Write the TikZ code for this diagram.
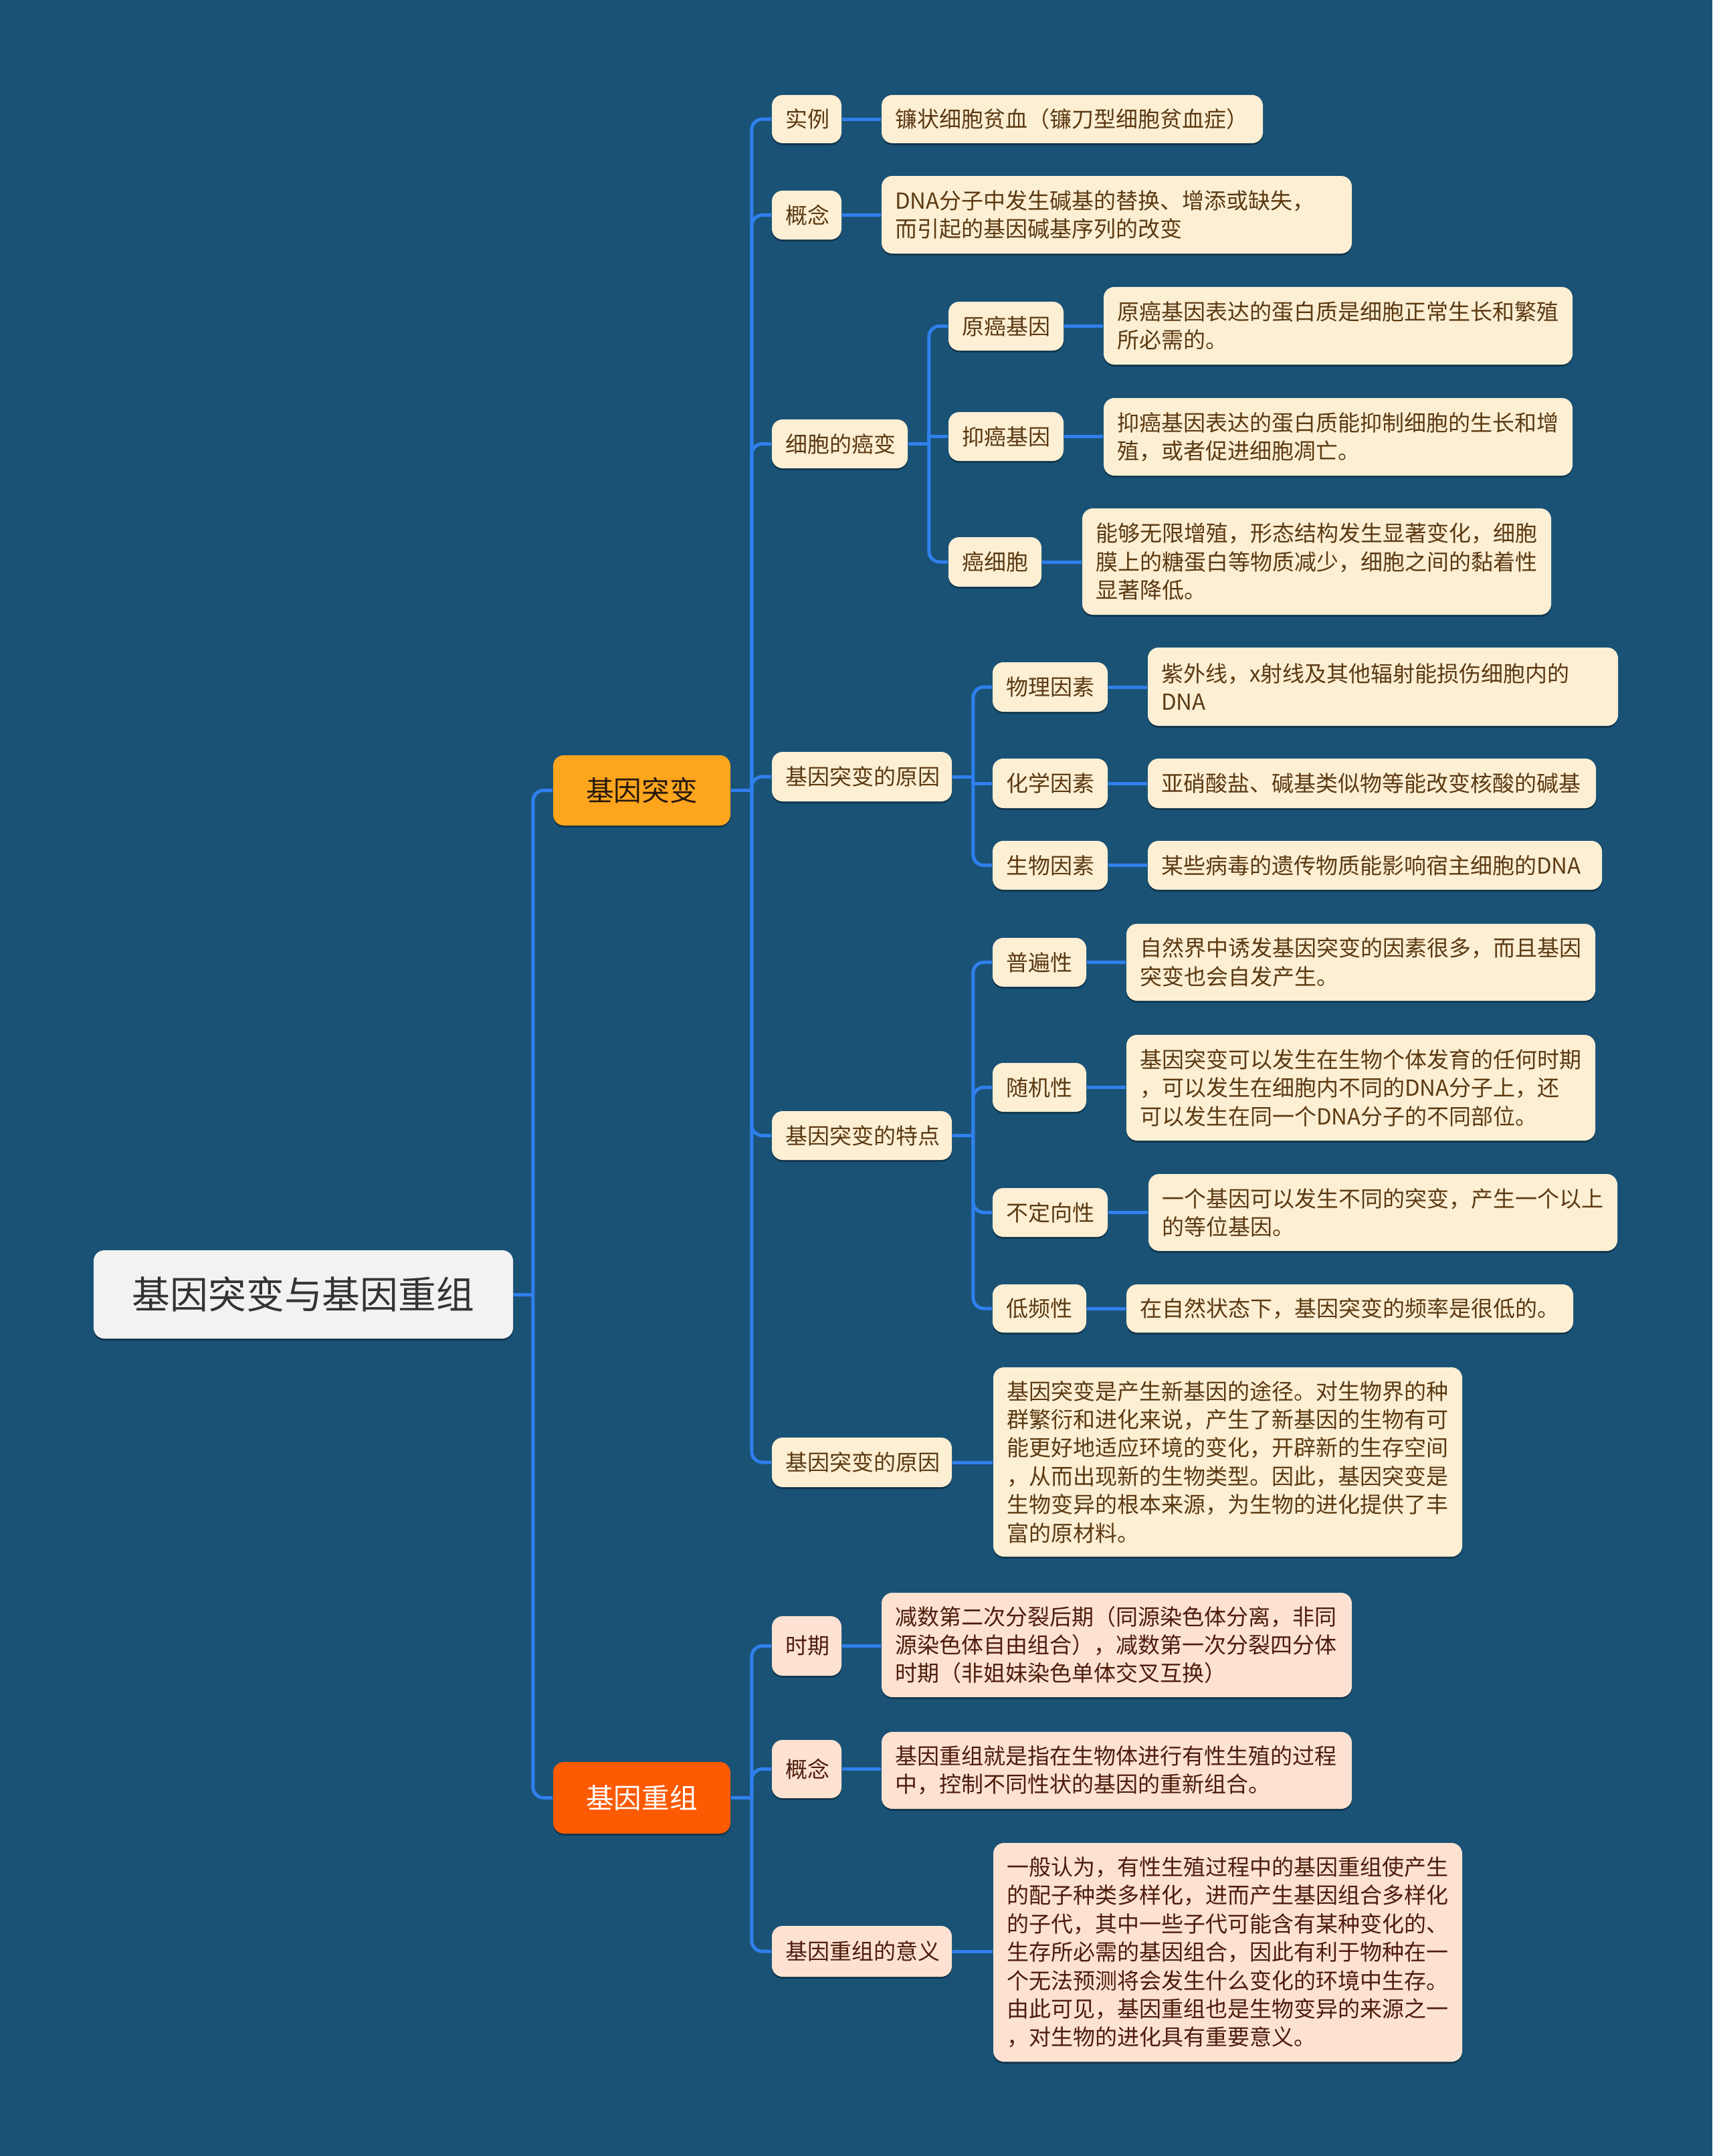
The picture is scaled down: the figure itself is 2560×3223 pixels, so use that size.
\documentclass[tikz,border=0pt]{standalone}
\usepackage{fontspec}
\setmainfont{Noto Sans CJK SC}
\usetikzlibrary{shadows}
\definecolor{bg}{HTML}{1A5276}
\definecolor{ln}{HTML}{2F80ED}
\definecolor{cream}{HTML}{FDEFD4}
\definecolor{peach}{HTML}{FDE2D1}
\definecolor{brn}{HTML}{5B3A12}
\definecolor{mrn}{HTML}{4E1C0C}
\definecolor{orgA}{HTML}{FCA51D}
\definecolor{orgB}{HTML}{FD5A04}
\definecolor{rootfill}{HTML}{F2F2F2}
\definecolor{roottext}{HTML}{333333}
\newcommand\bx[7]{%
  \pgfmathsetmacro\bxw{(#4-#2)*0.25-10}%
  \pgfmathsetmacro\bxh{(#5-#3)*0.25}%
  \node[#6, text width=\bxw pt, minimum height=\bxh pt, inner xsep=5pt] (#1) at ({(#2+#4)/2},{(#3+#5)/2}) {#7};}
\tikzset{
  basebox/.style={rounded corners=4pt, inner ysep=0pt,
    drop shadow={shadow xshift=0pt, shadow yshift=-0.7pt, opacity=0.35, fill=black}},
  txt/.style={font=\fontsize{8.25pt}{10.6pt}\selectfont},
  mutbox/.style={basebox, txt, fill=cream, text=brn},
  recbox/.style={basebox, txt, fill=peach, text=mrn},
  labc/.style={align=center},
  leafl/.style={align=left},
  conn/.style={draw=ln, line width=1.25pt, rounded corners=4pt},
  sconn/.style={draw=ln, line width=1.25pt, sharp corners},
}
\begin{document}
\begin{tikzpicture}[x=0.25pt,y=-0.25pt]
\useasboundingbox (0,0) rectangle (2560,3223);
\fill[bg] (0,0) rectangle (2560,3223);

% root and main branches
\bx{root}{140}{1869}{767}{2001}{basebox, fill=rootfill, text=roottext, align=center, font=\fontsize{14.2pt}{17pt}\selectfont}{基因突变与基因重组}
\bx{m}{827}{1129}{1092}{1234}{basebox, fill=orgA, text=black!80!brown, align=center, font=\fontsize{10.4pt}{12.5pt}\selectfont}{基因突变}
\bx{r}{827}{2634}{1092}{2741}{basebox, fill=orgB, text=white, align=center, font=\fontsize{10.4pt}{12.5pt}\selectfont}{基因重组}

% level 2 under 基因突变
\bx{a1}{1154}{142}{1258}{214}{mutbox, labc}{实例}
\bx{a2}{1154}{285}{1258}{358}{mutbox, labc}{概念}
\bx{a3}{1154}{627}{1357}{700}{mutbox, labc}{细胞的癌变}
\bx{a4}{1154}{1124}{1423}{1198}{mutbox, labc}{基因突变的原因}
\bx{a5}{1154}{1661}{1423}{1734}{mutbox, labc}{基因突变的特点}
\bx{a6}{1154}{2149}{1423}{2223}{mutbox, labc}{基因突变的原因}

% leaves of level 2
\bx{a1l}{1318}{142}{1888}{214}{mutbox, leafl}{镰状细胞贫血（镰刀型细胞贫血症）}
\bx{a2l}{1318}{263}{2021}{379}{mutbox, leafl}{DNA分子中发生碱基的替换、增添或缺失，\\而引起的基因碱基序列的改变}

% 细胞的癌变
\bx{b1}{1418}{451}{1590}{524}{mutbox, labc}{原癌基因}
\bx{b2}{1418}{616}{1590}{689}{mutbox, labc}{抑癌基因}
\bx{b3}{1418}{803}{1557}{877}{mutbox, labc}{癌细胞}
\bx{b1l}{1650}{429}{2351}{545}{mutbox, leafl}{原癌基因表达的蛋白质是细胞正常生长和繁殖\\所必需的。}
\bx{b2l}{1650}{595}{2351}{711}{mutbox, leafl}{抑癌基因表达的蛋白质能抑制细胞的生长和增\\殖，或者促进细胞凋亡。}
\bx{b3l}{1618}{760}{2319}{919}{mutbox, leafl}{能够无限增殖，形态结构发生显著变化，细胞\\膜上的糖蛋白等物质减少，细胞之间的黏着性\\显著降低。}

% 基因突变的原因
\bx{c1}{1484}{990}{1656}{1064}{mutbox, labc}{物理因素}
\bx{c2}{1484}{1134}{1656}{1208}{mutbox, labc}{化学因素}
\bx{c3}{1484}{1257}{1656}{1330}{mutbox, labc}{生物因素}
\bx{c1l}{1716}{968}{2419}{1085}{mutbox, leafl}{紫外线，x射线及其他辐射能损伤细胞内的\\DNA}
\bx{c2l}{1716}{1134}{2386}{1208}{mutbox, leafl}{亚硝酸盐、碱基类似物等能改变核酸的碱基}
\bx{c3l}{1716}{1257}{2395}{1330}{mutbox, leafl}{某些病毒的遗传物质能影响宿主细胞的DNA}

% 基因突变的特点
\bx{d1}{1484}{1402}{1624}{1475}{mutbox, labc}{普遍性}
\bx{d2}{1484}{1589}{1624}{1662}{mutbox, labc}{随机性}
\bx{d3}{1484}{1776}{1656}{1849}{mutbox, labc}{不定向性}
\bx{d4}{1484}{1920}{1624}{1992}{mutbox, labc}{低频性}
\bx{d1l}{1684}{1381}{2385}{1496}{mutbox, leafl}{自然界中诱发基因突变的因素很多，而且基因\\突变也会自发产生。}
\bx{d2l}{1684}{1547}{2385}{1705}{mutbox, leafl}{基因突变可以发生在生物个体发育的任何时期\\，可以发生在细胞内不同的DNA分子上，还\\可以发生在同一个DNA分子的不同部位。}
\bx{d3l}{1717}{1755}{2418}{1870}{mutbox, leafl}{一个基因可以发生不同的突变，产生一个以上\\的等位基因。}
\bx{d4l}{1684}{1920}{2352}{1992}{mutbox, leafl}{在自然状态下，基因突变的频率是很低的。}

% 基因突变的原因 (2)
\bx{a6l}{1485}{2044}{2186}{2327}{mutbox, leafl}{基因突变是产生新基因的途径。对生物界的种\\群繁衍和进化来说，产生了新基因的生物有可\\能更好地适应环境的变化，开辟新的生存空间\\，从而出现新的生物类型。因此，基因突变是\\生物变异的根本来源，为生物的进化提供了丰\\富的原材料。}

% 基因重组
\bx{e1}{1154}{2416}{1258}{2505}{recbox, labc}{时期}
\bx{e2}{1154}{2601}{1258}{2688}{recbox, labc}{概念}
\bx{e3}{1154}{2879}{1423}{2955}{recbox, labc}{基因重组的意义}
\bx{e1l}{1318}{2381}{2021}{2537}{recbox, leafl}{减数第二次分裂后期（同源染色体分离，非同\\源染色体自由组合），减数第一次分裂四分体\\时期（非姐妹染色单体交叉互换）}
\bx{e2l}{1318}{2589}{2021}{2704}{recbox, leafl}{基因重组就是指在生物体进行有性生殖的过程\\中，控制不同性状的基因的重新组合。}
\bx{e3l}{1485}{2755}{2186}{3082}{recbox, leafl}{一般认为，有性生殖过程中的基因重组使产生\\的配子种类多样化，进而产生基因组合多样化\\的子代，其中一些子代可能含有某种变化的、\\生存所必需的基因组合，因此有利于物种在一\\个无法预测将会发生什么变化的环境中生存。\\由此可见，基因重组也是生物变异的来源之一\\，对生物的进化具有重要意义。}

% junction coordinates
\coordinate (j0) at ([xshift=7.25pt]root.east);
\coordinate (jm) at ([xshift=7.75pt]m.east);
\coordinate (jr) at ([xshift=7.75pt]r.east);
\coordinate (ja3) at ([xshift=7.75pt]a3.east);
\coordinate (ja4) at ([xshift=7.75pt]a4.east);
\coordinate (ja5) at ([xshift=7.75pt]a5.east);

% connectors
\draw[conn] (root.east) -- (j0);
\draw[conn] (j0) |- (m.west);
\draw[conn] (j0) |- (r.west);

\draw[conn] (m.east) -- (jm);
\foreach \c in {a1,a2,a3,a4,a5,a6} { \draw[conn] (jm) |- (\c.west); }

\draw[conn] (r.east) -- (jr);
\foreach \c in {e1,e2,e3} { \draw[conn] (jr) |- (\c.west); }

\draw[conn] (a3.east) -- (ja3);
\draw[conn] (ja3) |- (b1.west);
\draw[sconn] (ja3) |- (b2.west);
\draw[conn] (ja3) |- (b3.west);

\draw[conn] (a4.east) -- (ja4);
\draw[conn] (ja4) |- (c1.west);
\draw[sconn] (ja4) |- (c2.west);
\draw[conn] (ja4) |- (c3.west);

\draw[conn] (a5.east) -- (ja5);
\foreach \c in {d1,d2,d3,d4} { \draw[conn] (ja5) |- (\c.west); }

% label to leaf
\foreach \p in {a1,a2,a6,b1,b2,b3,c1,c2,c3,d1,d2,d3,d4,e1,e2,e3} {
  \draw[conn] (\p.east) -- (\p.east -| \p l.west);
}
\end{tikzpicture}
\end{document}
